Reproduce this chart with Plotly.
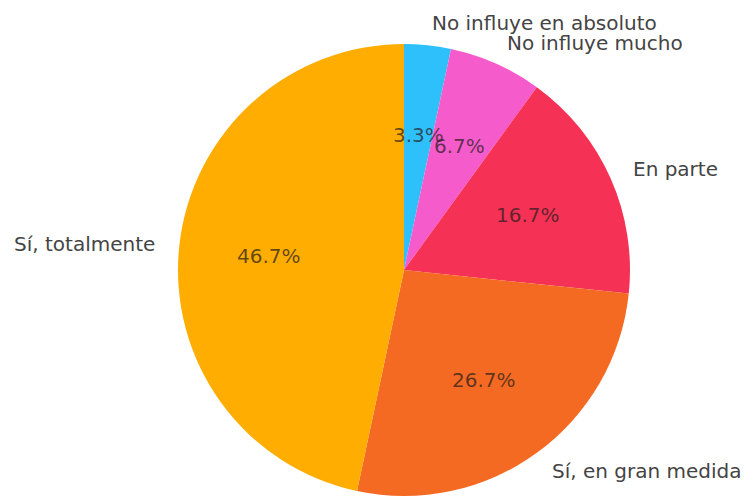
import math
import plotly.graph_objects as go

# Survey answers (30 respondents), listed clockwise from the top
labels = ["No influye en absoluto", "No influye mucho", "En parte",
          "Sí, en gran medida", "Sí, totalmente"]
counts = [1, 2, 5, 8, 14]
colors = ["#2EC0FA", "#F55BCB", "#F53155", "#F56A22", "#FFAD00"]

W, H = 750, 497
CX, CY, R = 404, 270, 226          # pie centre / radius in pixels (y from top)
LABEL_DIST, PCT_DIST = 1.1, 0.6
FONT = "DejaVu Sans"
FONT_SIZE = 20

fig = go.Figure(go.Pie(
    labels=labels,
    values=counts,
    marker=dict(colors=colors, line=dict(width=0)),
    sort=False,
    direction="clockwise",
    rotation=0,
    textinfo="none",
    hoverinfo="label+percent",
    showlegend=False,
    domain=dict(x=[(CX - R) / W, (CX + R) / W],
                y=[(H - CY - R) / H, (H - CY + R) / H]),
))

total = sum(counts)
start = 90.0
annotations = []
for lab, v in zip(labels, counts):
    span = 360.0 * v / total
    mid = math.radians(start - span / 2)
    start -= span
    c, s = math.cos(mid), math.sin(mid)
    # outer category label
    lx = CX + LABEL_DIST * R * c
    ly = CY - LABEL_DIST * R * s
    annotations.append(dict(
        x=lx / W, y=1 - ly / H, xref="paper", yref="paper",
        text=lab, showarrow=False,
        xanchor="left" if c > 0 else "right", yanchor="middle",
        font=dict(family=FONT, size=FONT_SIZE, color="#444444"),
    ))
    # percentage inside the slice
    px = CX + PCT_DIST * R * c
    py = CY - PCT_DIST * R * s
    annotations.append(dict(
        x=px / W, y=1 - py / H, xref="paper", yref="paper",
        text=f"{100 * v / total:.1f}%", showarrow=False,
        xanchor="center", yanchor="middle",
        font=dict(family=FONT, size=FONT_SIZE, color="rgba(40,30,30,0.72)"),
    ))

fig.update_layout(
    width=W, height=H,
    margin=dict(l=0, r=0, t=0, b=0),
    paper_bgcolor="white",
    annotations=annotations,
)

fig.write_html("out.html")
